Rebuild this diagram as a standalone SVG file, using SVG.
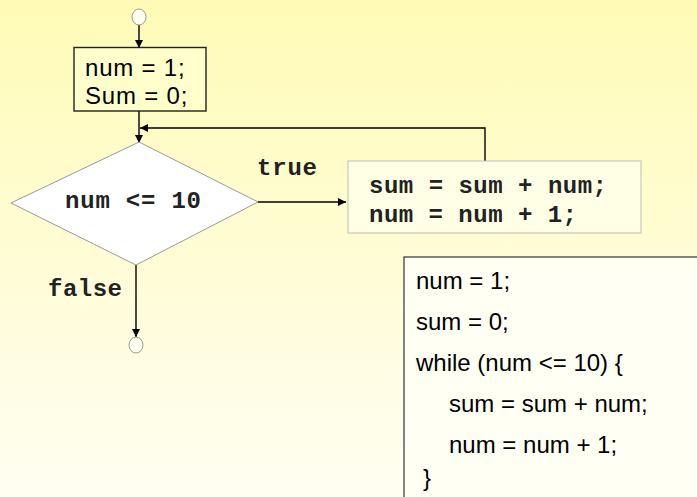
<svg xmlns="http://www.w3.org/2000/svg" width="697" height="497" viewBox="0 0 697 497">
<defs>
<linearGradient id="bg" x1="0" y1="0" x2="0" y2="1">
<stop offset="0" stop-color="#FFFBB6"/>
<stop offset="1" stop-color="#FFFEF2"/>
</linearGradient>
<marker id="ah" viewBox="0 0 10 10" refX="10" refY="5" markerWidth="8" markerHeight="8" markerUnits="userSpaceOnUse" orient="auto">
<path d="M0,0 L10,5 L0,10 z" fill="#000"/>
</marker>
<style>
.sans{font-family:"Liberation Sans",Arial,sans-serif;fill:#000}
.mono{font-family:"Liberation Mono","Courier New",monospace;font-weight:bold;fill:#222;font-size:24px}
.term{fill:#FFFFF0;stroke:#999;stroke-width:1}
.conn{fill:none;stroke:#000;stroke-width:1.4}
</style>
</defs>
<rect x="0" y="0" width="697" height="497" fill="url(#bg)"/>

<g id="connectors">
<line class="conn" x1="139" y1="25" x2="139" y2="48" marker-end="url(#ah)"/>
<line class="conn" x1="139" y1="111" x2="139" y2="143" marker-end="url(#ah)"/>
<line class="conn" x1="258" y1="202" x2="346" y2="202" marker-end="url(#ah)"/>
<polyline class="conn" points="485,161 485,128 140,128" marker-end="url(#ah)"/>
<line class="conn" x1="136" y1="265" x2="136" y2="337" stroke="#555" marker-end="url(#ah)"/>
</g>

<g id="start">
<ellipse class="term" cx="139" cy="17" rx="7" ry="8"/>
</g>

<g id="init">
<rect x="74" y="47.5" width="132" height="63.5" fill="#FFFFCC" stroke="#222" stroke-width="1.4"/>
<text class="sans" x="85" y="76" font-size="24" letter-spacing="0.8">num = 1;</text>
<text class="sans" x="85" y="104" font-size="24" letter-spacing="0.8">Sum = 0;</text>
</g>

<g id="cond">
<polygon points="139,142 258,202 136,265 11,203" fill="#FFFFFF" stroke="#999" stroke-width="1"/>
<text class="mono" x="65" y="208" textLength="136">num &lt;= 10</text>
</g>

<g id="body">
<rect x="348" y="161" width="293" height="72" fill="#FFFFE6" stroke="#BBB" stroke-width="1"/>
<text class="mono" x="369" y="193" textLength="238">sum = sum + num;</text>
<text class="mono" x="369" y="222" textLength="208">num = num + 1;</text>
</g>

<g id="end">
<ellipse class="term" cx="136" cy="345" rx="7" ry="8"/>
</g>

<g id="labels">
<text class="mono" x="257" y="175" textLength="60">true</text>
<text class="mono" x="48" y="296" textLength="74">false</text>
</g>

<g id="code">
<rect x="404" y="257" width="300" height="250" fill="#FFFFF4" stroke="#333" stroke-width="1.2"/>
<text class="sans" font-size="24" x="416" y="289">num = 1;</text>
<text class="sans" font-size="24" x="416" y="330">sum = 0;</text>
<text class="sans" font-size="24" x="416" y="371">while (num &lt;= 10) {</text>
<text class="sans" font-size="24" x="449" y="412">sum = sum + num;</text>
<text class="sans" font-size="24" x="449" y="453">num = num + 1;</text>
<text class="sans" font-size="24" x="423" y="486">}</text>
</g>
</svg>
